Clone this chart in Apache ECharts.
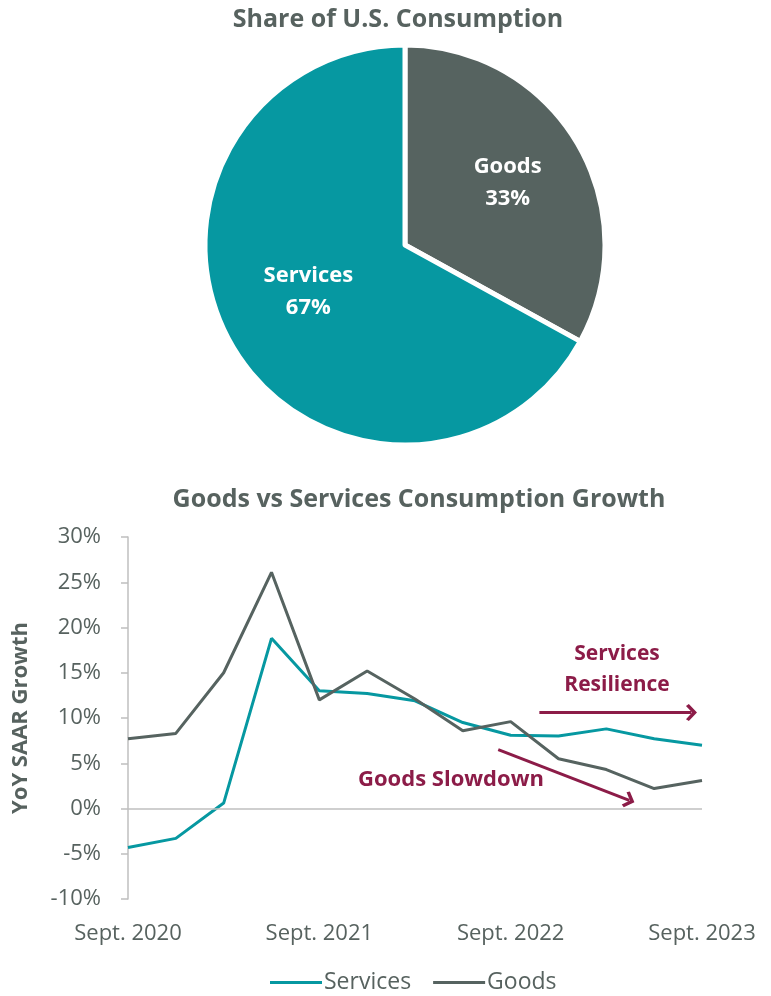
<!DOCTYPE html>
<html>
<head>
<meta charset="utf-8">
<script src="https://cdn.jsdelivr.net/npm/echarts@6/dist/echarts.min.js"></script>
<style>
html,body{margin:0;padding:0;background:#fff;}
#c{width:771px;height:996px;}
</style>
</head>
<body>
<div id="c"></div>
<script>
// ---- data ----
const pieNames = ['Goods', 'Services'];
const pieValues = [33, 67];

const quarters = ['Sept. 2020','Dec. 2020','Mar. 2021','June 2021','Sept. 2021','Dec. 2021','Mar. 2022','June 2022','Sept. 2022','Dec. 2022','Mar. 2023','June 2023','Sept. 2023'];
const servicesGrowth = [-4.3, -3.3, 0.6, 18.8, 13.0, 12.7, 11.9, 9.5, 8.1, 8.0, 8.8, 7.7, 7.0];
const goodsGrowth = [7.7, 8.3, 15.0, 26.1, 12.0, 15.2, 12.1, 8.6, 9.6, 5.5, 4.3, 2.2, 3.1];
const yTicks = [-10, -5, 0, 5, 10, 15, 20, 25, 30];

// annotation arrows in (quarter index, %) coordinates
const servicesArrow = [[8.6, 10.6], [11.78, 10.6]];
const goodsArrow = [[7.74, 6.5], [10.48, 0.9]];

const TEAL = '#0698a1';
const GRAY = '#566360';
const MAROON = '#8c1c48';
const TXT = '#57625f';
const AXIS = '#bfbfbf';
const FONT = '"Open Sans", "Noto Sans", sans-serif';

const chevron = 'path://M8,0 L16,7.4 L14.2,10 L8,4.4 L1.8,10 L0,7.4 Z';

const chart = echarts.init(document.getElementById('c'));
chart.setOption({
  animation: false,
  backgroundColor: '#fff',
  textStyle: { fontFamily: FONT },
  title: [
    { text: 'Share of U.S. Consumption', left: 393, top: 2, textAlign: 'center',
      textStyle: { fontFamily: FONT, fontSize: 25, fontWeight: 'bold', color: TXT } },
    { text: 'Goods vs Services Consumption Growth', left: 414, top: 482, textAlign: 'center',
      textStyle: { fontFamily: FONT, fontSize: 25, fontWeight: 'bold', color: TXT } }
  ],
  legend: {
    data: ['Services', 'Goods'],
    left: 265, top: 966,
    icon: 'rect', itemWidth: 52, itemHeight: 3, itemGap: 22,
    textStyle: { fontFamily: FONT, fontSize: 23, color: TXT, padding: [0, 0, 0, -3] }
  },
  grid: { left: 128, right: 69, top: 537, bottom: 97 },
  xAxis: [
    { type: 'category', data: quarters, boundaryGap: false,
      axisLine: { show: false }, axisTick: { show: false },
      axisLabel: { interval: 3, margin: 24, fontFamily: FONT, fontSize: 22, color: TXT } },
    { type: 'value', min: 0, max: 12, show: false }
  ],
  yAxis: {
    type: 'value', min: -10, max: 30, interval: 5,
    axisLine: { show: true, onZero: false, lineStyle: { color: AXIS, width: 1.5 } },
    axisTick: { show: true, length: 7, lineStyle: { color: AXIS, width: 1.5 } },
    splitLine: { show: false },
    axisLabel: { margin: 27, fontFamily: FONT, fontSize: 22, color: TXT,
      formatter: v => yTicks.includes(v) ? v + '%' : '' },
    name: 'YoY SAAR Growth', nameLocation: 'middle', nameGap: 96, nameRotate: 90,
    nameTextStyle: { fontFamily: FONT, fontSize: 22, fontWeight: 'bold', color: TXT }
  },
  series: [
    { type: 'pie', center: [405, 245], radius: [0, 200], startAngle: 90, clockwise: true,
      silent: true,
      data: pieNames.map((n, i) => ({ name: n, value: pieValues[i],
        itemStyle: { color: i === 0 ? GRAY : TEAL },
        label: { offset: i === 0 ? [14, -10] : [-8, -6] } })),
      itemStyle: { borderColor: '#fff', borderWidth: 5 },
      label: { show: true, position: 'inside', formatter: '{b}\n{c}%',
        fontFamily: FONT, fontSize: 22, fontWeight: 'bold', color: '#fff', lineHeight: 32 },
      labelLine: { show: false }
    },
    { name: 'Zero', type: 'line', data: [], silent: true,
      markLine: { silent: true, symbol: ['none', 'none'], label: { show: false },
        lineStyle: { color: AXIS, width: 1.5, type: 'solid' },
        data: [{ yAxis: 0 }] } },
    { name: 'Services', type: 'line', data: servicesGrowth, showSymbol: false, symbol: 'none',
      lineStyle: { color: TEAL, width: 3 }, itemStyle: { color: TEAL } },
    { name: 'Goods', type: 'line', data: goodsGrowth, showSymbol: false, symbol: 'none',
      lineStyle: { color: GRAY, width: 3 }, itemStyle: { color: GRAY } },
    { name: 'Arrows', type: 'line', xAxisIndex: 1, data: [], silent: true,
      markLine: { silent: true, symbol: ['none', chevron], symbolSize: [17, 11],
        label: { show: false },
        lineStyle: { color: MAROON, width: 3, type: 'solid' },
        data: [
          [{ coord: servicesArrow[0] }, { coord: servicesArrow[1] }],
          [{ coord: goodsArrow[0] }, { coord: goodsArrow[1] }]
        ] } }
  ],
  graphic: [
    { type: 'text', z: 100, x: 617, y: 670,
      style: { text: 'Services\nResilience', textAlign: 'center', textVerticalAlign: 'middle',
        fontFamily: FONT, fontSize: 21, fontWeight: 'bold', fill: MAROON, lineHeight: 31 } },
    { type: 'text', z: 100, x: 451, y: 780,
      style: { text: 'Goods Slowdown', textAlign: 'center', textVerticalAlign: 'middle',
        fontFamily: FONT, fontSize: 22, fontWeight: 'bold', fill: MAROON } }
  ]
});
</script>
</body>
</html>
